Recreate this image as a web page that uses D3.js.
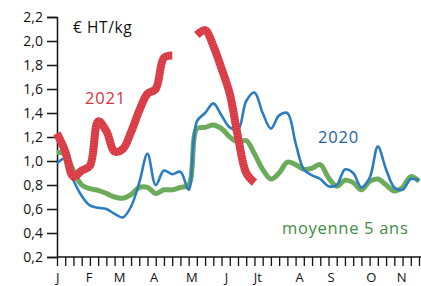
<!DOCTYPE html>
<html>
<head>
<meta charset="utf-8">
<script src="https://cdn.jsdelivr.net/npm/d3@7"></script>
<style>
  html, body { margin: 0; padding: 0; background: #fff; }
  svg { display: block; font-family: "Open Sans", "DejaVu Sans", sans-serif; }
</style>
</head>
<body>
<svg id="chart" width="421" height="286"></svg>
<script>
// weekly prices, € HT/kg
var weeks = d3.range(1, 46);
var yTicks = [0.2, 0.4, 0.6, 0.8, 1.0, 1.2, 1.4, 1.6, 1.8, 2.0, 2.2];
var monthLabels = ["J", "F", "M", "A", "M", "J", "Jt", "A", "S", "O", "N"];
var monthWeeks = [1.1, 4.9, 8.6, 12.8, 17.4, 21.6, 25.4, 30.5, 34.3, 39.2, 42.9];

var avg5 = [1.07, 1.06, 0.92, 0.8, 0.77, 0.755, 0.73, 0.7, 0.69, 0.72, 0.78, 0.78, 0.73, 0.76, 0.76,
  0.78, 0.8, 1.27, 1.28, 1.3, 1.27, 1.2, 1.16, 1.17, 1.06, 0.93, 0.85, 0.9, 0.99, 0.97,
  0.93, 0.94, 0.97, 0.86, 0.79, 0.84, 0.82, 0.76, 0.83, 0.85, 0.8, 0.75, 0.78, 0.87, 0.83];
var y2020 = [0.98, 1.02, 0.84, 0.71, 0.63, 0.61, 0.6, 0.56, 0.53, 0.62, 0.82, 1.06, 0.8, 0.92, 0.89,
  0.91, 0.76, 1.33, 1.4, 1.48, 1.38, 1.28, 1.26, 1.5, 1.57, 1.4, 1.27, 1.38, 1.4, 1.15,
  0.93, 0.88, 0.85, 0.79, 0.8, 0.93, 0.9, 0.78, 0.86, 1.12, 0.93, 0.78, 0.76, 0.85, 0.84];
var y2021 = [1.23, 1.08, 0.87, 0.92, 0.96, 1.33, 1.25, 1.08, 1.1, 1.24, 1.42, 1.56, 1.6, 1.86, 1.88,
  null, null, 2.05, 2.09, 1.96, 1.77, 1.56, 1.2, 0.9, 0.82];

(function () {
  "use strict";

  var svg = d3.select("#chart");
  var x = d3.scaleLinear().domain([1, 45]).range([57, 419]);
  var y = d3.scaleLinear().domain([0.2, 2.2]).range([257, 17]);

  function lineFor(values) {
    return d3.line()
      .defined(function (d) { return d.v != null; })
      .x(function (d) { return x(d.w); })
      .y(function (d) { return y(d.v); })
      .curve(d3.curveCatmullRom.alpha(0.5))(values.map(function (v, i) {
        return { w: weeks[i], v: v };
      }));
  }

  // axes
  var yAxis = svg.append("g")
    .attr("transform", "translate(57,0)")
    .call(d3.axisLeft(y).tickValues(yTicks).tickSize(10).tickPadding(4)
      .tickFormat(function (d) { return d.toFixed(1).replace(".", ","); }));
  yAxis.select(".domain").attr("stroke", "#111").attr("stroke-width", 1.5);
  yAxis.selectAll(".tick line").attr("stroke", "#111").attr("stroke-width", 1.5);
  yAxis.selectAll(".tick text").attr("font-size", 14).attr("fill", "#111")
    .attr("font-family", "Open Sans");

  var xAxis = svg.append("g")
    .attr("transform", "translate(0,257)")
    .call(d3.axisBottom(x).tickValues(weeks).tickSize(9).tickFormat(""));
  xAxis.select(".domain").attr("d", "M57,0H421").attr("stroke", "#111").attr("stroke-width", 1.5);
  xAxis.selectAll(".tick line").attr("stroke", "#111").attr("stroke-width", 1.3);

  svg.append("g").selectAll("text")
    .data(monthLabels)
    .join("text")
    .attr("x", function (d, i) { return x(monthWeeks[i]); })
    .attr("y", 282)
    .attr("text-anchor", "middle")
    .attr("font-size", 13)
    .attr("fill", "#111")
    .text(function (d) { return d; });

  // series
  svg.append("path")
    .attr("d", lineFor(avg5))
    .attr("fill", "none")
    .attr("stroke", "#6dab5c")
    .attr("stroke-width", 5);

  svg.append("path")
    .attr("d", lineFor(y2020))
    .attr("fill", "none")
    .attr("stroke", "#2c7cc1")
    .attr("stroke-width", 2.6);

  var redPath = lineFor(y2021);
  svg.append("path")
    .attr("d", redPath)
    .attr("fill", "none")
    .attr("stroke", "#d7343e")
    .attr("stroke-width", 8);
  svg.append("path")
    .attr("d", redPath)
    .attr("fill", "none")
    .attr("stroke", "#e9767c")
    .attr("stroke-width", 8)
    .attr("stroke-dasharray", "1 1.5")
    .attr("opacity", 0.45);

  // labels
  svg.append("text").attr("x", 73).attr("y", 33).attr("font-size", 15.5).attr("letter-spacing", 0.6)
    .attr("fill", "#111").text("€ HT/kg");
  svg.append("text").attr("x", 85).attr("y", 104).attr("font-size", 16.5).attr("letter-spacing", 0.8)
    .attr("fill", "#d3343d").text("2021");
  svg.append("text").attr("x", 318).attr("y", 143).attr("font-size", 16.5).attr("letter-spacing", 0.8)
    .attr("fill", "#1f5f9e").text("2020");
  svg.append("text").attr("x", 282).attr("y", 234).attr("font-size", 16.5).attr("letter-spacing", 0.7)
    .attr("fill", "#3f8c45").text("moyenne 5 ans");
})();
</script>
</body>
</html>
